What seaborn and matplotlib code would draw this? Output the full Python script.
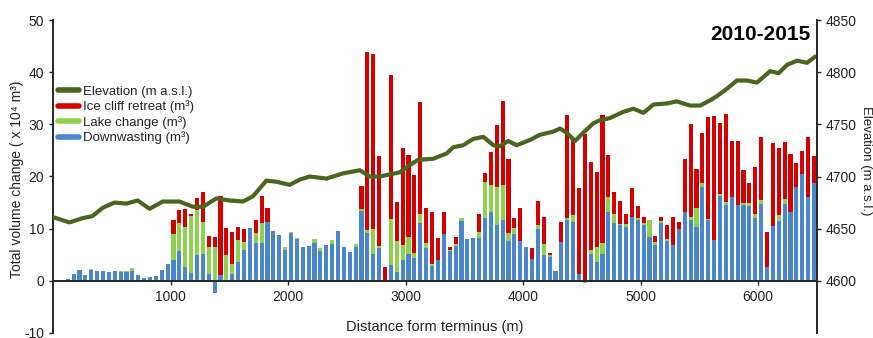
import numpy as np
import pandas as pd
import seaborn as sns
import matplotlib.pyplot as plt
from matplotlib.lines import Line2D

sns.set_style('ticks')
plt.rcParams['font.family'] = ['Liberation Sans', 'DejaVu Sans']
plt.rcParams['axes.unicode_minus'] = False

# bin centres along the glacier (m), 50 m bins
distance = np.arange(125, 6500, 50)

# volume change per bin (x 10^4 m3)
downwasting = [0.4, 1.3, 2.0, 1.2, 2.0, 1.9, 1.8, 1.7, 1.8, 1.7,
               1.7, 1.9, 1.2, 0.5, 0.7, 1.0, 2.1, 3.3, 3.9, 5.8,
               2.7, 1.5, 4.9, 5.2, 1.3, -2.4, 1.2, 0.0, 1.4, 3.7,
               5.9, 10.1, 7.2, 7.3, 11.3, 9.6, 8.7, 6.0, 9.2, 8.1,
               6.4, 6.7, 7.3, 5.8, 6.9, 7.1, 9.6, 6.5, 5.5, 6.4,
               13.3, 9.2, 5.2, 6.2, -0.3, 3.0, 1.7, 4.0, 5.2, 4.3,
               11.0, 6.2, 2.8, 4.0, 8.9, 5.7, 6.6, 11.4, 8.1, 8.2,
               8.3, 12.1, 13.1, 10.7, 11.6, 7.7, 8.9, 7.7, 6.5, 4.1,
               10.0, 4.9, 4.5, 1.9, 7.5, 11.6, 11.3, 1.3, 0.0, 5.2,
               3.6, 5.2, 13.2, 11.0, 10.7, 10.3, 12.3, 11.6, 10.7, 8.4,
               6.8, 11.1, 7.6, 6.8, 9.9, 13.1, 11.6, 10.3, 18.0, 11.6,
               7.9, 16.2, 14.5, 16.0, 14.5, 14.5, 14.3, 12.1, 14.8, 2.7,
               10.5, 11.4, 14.8, 13.1, 18.0, 20.4, 16.0, 18.8]

lake = [0, 0, 0, 0, 0.2, 0, 0, 0, 0, 0.1,
        0.1, 0.6, 0, 0, 0, 0, 0, 0, 5.1, 5.3,
        7.6, 11.0, 8.6, 6.1, 5.2, 6.5, 0, 4.9, 1.9, 4.2,
        1.6, 0.1, 2.0, 3.8, 0, 0, 0, 0.4, 0.2, 0.2,
        0, 0, 0.8, 0.4, 0, 0.8, 0, 0, 0, 0.6,
        0.4, 0.6, 4.8, 0.5, 0, 8.9, 6.0, 2.8, 3.2, 1.1,
        1.8, 1.0, 0.5, 0, 0, 0.3, 0.4, 0.6, 0, 0,
        1.1, 6.9, 5.2, 7.3, 6.7, 1.5, 1.3, 0, 0, 0,
        0.7, 2.1, 0.5, 0, 0, 0.5, 1.3, 0, -0.4, 0.8,
        2.9, 2.0, 2.9, 1.9, 0.2, 0.5, 0, 0.5, 0.4, 3.3,
        0.7, 0.4, 0.4, 0, 0, 0, 0.7, 3.6, 0.8, 0.3,
        0, 0.4, 0.6, 0, 0, 0.4, 0.6, 0.8, 0.7, 0,
        0, 1.2, 0.8, 0, 0, 0, 0, 0]

ice_cliff = [0, 0, 0, 0, 0, 0, 0, 0, 0, 0,
             0, 0, 0, 0, 0, 0, 0, 0, 2.6, 2.5,
             3.5, 0.4, 2.3, 5.7, 2.1, 1.9, 15.0, 5.3, 6.0, 2.4,
             2.5, 0, 2.5, 5.1, 2.6, 0, 0, 0, 0, 0,
             0, 0, 0, 0, 0, 0, 0, 0, 0, 0,
             4.5, 34.0, 33.4, 17.3, 2.7, 27.5, 7.4, 18.6, 15.7, 14.8,
             21.5, 6.7, 9.9, 4.3, 4.3, 0.5, 1.4, 0, 0, 0,
             3.5, 1.7, 6.4, 11.8, 16.2, 14.2, 1.9, 6.3, 0, 2.1,
             4.6, 5.3, 0.4, 0, 3.8, 19.6, 14.5, 16.4, 28.2, 16.8,
             14.4, 24.5, 8.0, 4.1, 4.4, 2.1, 5.5, 2.2, 1.2, 0,
             1.1, 0.8, 2.7, 5.5, 1.3, 10.2, 17.8, 7.6, 9.6, 19.5,
             23.7, 13.7, 16.8, 10.8, 12.4, 6.3, 3.9, 8.9, 12.1, 6.7,
             16.0, 12.8, 11.0, 11.2, 4.5, 4.4, 11.5, 5.1]

# surface elevation profile (m a.s.l.)
elev_dist = [0, 140, 250, 335, 423, 523, 623, 721, 821, 934,
             1077, 1190, 1276, 1390, 1503, 1616, 1701, 1815, 1900, 2014,
             2099, 2184, 2326, 2468, 2610, 2695, 2780, 2865, 2950, 3036,
             3107, 3235, 3348, 3405, 3490, 3575, 3661, 3746, 3802, 3873,
             3945, 4058, 4143, 4256, 4313, 4370, 4441, 4512, 4597, 4654,
             4739, 4853, 4938, 5023, 5108, 5222, 5307, 5421, 5506, 5591,
             5648, 5733, 5818, 5904, 5989, 6102, 6173, 6245, 6330, 6415, 6486]
elevation = [4661, 4656, 4660, 4662, 4670, 4675, 4674, 4677, 4669, 4676,
             4676, 4671, 4671, 4679, 4677, 4676, 4681, 4696, 4695, 4692,
             4697, 4700, 4698, 4703, 4706, 4700, 4700, 4702, 4704, 4711,
             4716, 4717, 4722, 4728, 4730, 4736, 4738, 4730, 4729, 4734,
             4730, 4735, 4740, 4743, 4746, 4742, 4734, 4742, 4751, 4754,
             4756, 4762, 4765, 4761, 4769, 4770, 4772, 4768, 4768, 4773,
             4777, 4784, 4792, 4792, 4790, 4801, 4799, 4807, 4811, 4809, 4815]

BLUE = '#4a86cc'
GREEN = '#8ed14e'
RED = '#d40000'
OLIVE = '#4b6420'
TXT = '#222222'

df = pd.DataFrame({'distance': distance, 'blue': downwasting,
                   'green': lake, 'red': ice_cliff})
base = df['blue'].clip(lower=0)
df['green_top'] = np.where(df['green'] > 0, base + df['green'], df['green'])
df['red_top'] = base + df['green'].clip(lower=0) + df['red']

fig = plt.figure(figsize=(8.73, 3.38), dpi=100)
ax = fig.add_axes([53 / 873, 5 / 338, 764 / 873, 313 / 338])

# stacked bars drawn as overlapping cumulative layers
for col, color in [('red_top', RED), ('green_top', GREEN), ('blue', BLUE)]:
    sns.barplot(data=df, x='distance', y=col, native_scale=True, color=color,
                saturation=1, width=0.7, errorbar=None, linewidth=0, ax=ax)

ax.set_xlim(0, 6500)
ax.set_ylim(-10, 50)
ax.set_yticks(range(-10, 51, 10))
ax.set_xticks(range(1000, 6001, 1000))
ax.set_xlabel('')
ax.set_ylabel('Total volume change ( x 10⁴ m³)', fontsize=10, color=TXT)
ax.yaxis.set_label_coords(-0.038, 0.49)
ax.spines['bottom'].set_position(('data', 0))
ax.spines['top'].set_visible(False)
ax.spines['right'].set_visible(False)
for s in ['left', 'bottom']:
    ax.spines[s].set_linewidth(1.4)
ax.tick_params(axis='both', labelsize=10, colors=TXT, length=3, width=1)
ax.text(0.5, 0.02, 'Distance form terminus (m)', transform=ax.transAxes,
        ha='center', va='center', fontsize=10.5, color=TXT)

ax2 = ax.twinx()
sns.lineplot(x=elev_dist, y=elevation, color=OLIVE, linewidth=3, ax=ax2)
ax2.set_ylim(4550, 4850)
ax2.set_yticks(range(4600, 4851, 50))
ax2.set_xlim(0, 6500)
ax2.spines['top'].set_visible(False)
ax2.spines['left'].set_visible(False)
ax2.spines['bottom'].set_visible(False)
ax2.spines['right'].set_linewidth(1.4)
ax2.tick_params(axis='y', labelsize=10, colors=TXT, length=3, width=1)
ax2.set_ylabel('Elevation (m a.s.l.)', rotation=270, fontsize=9.5, color=TXT)
ax2.yaxis.set_label_coords(1.072, 0.55)

ax2.text(0.991, 0.985, '2010-2015', transform=ax2.transAxes, ha='right',
         va='top', fontsize=15, fontweight='bold', color='black')

handles = [Line2D([], [], color=OLIVE, lw=4),
           Line2D([], [], color=RED, lw=4),
           Line2D([], [], color=GREEN, lw=4),
           Line2D([], [], color=BLUE, lw=4)]
labels = ['Elevation (m a.s.l.)', 'Ice cliff retreat (m³)',
          'Lake change (m³)', 'Downwasting (m³)']
ax2.legend(handles, labels, loc='upper left', bbox_to_anchor=(0.007, 0.79),
           frameon=False, fontsize=9.5, handlelength=1.6, handletextpad=0.3,
           labelspacing=0.2, borderaxespad=0, borderpad=0, labelcolor=TXT)

fig.savefig('out.png', dpi=100)
